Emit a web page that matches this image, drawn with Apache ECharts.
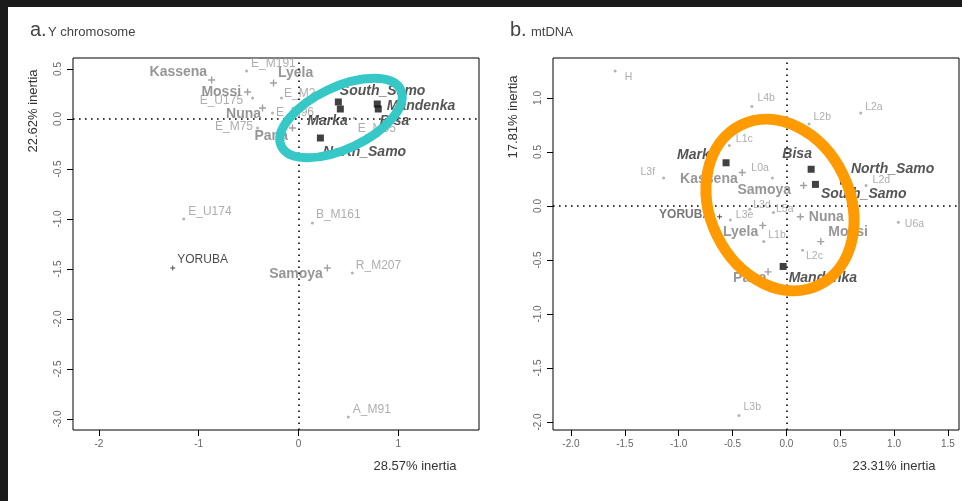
<!DOCTYPE html>
<html><head><meta charset="utf-8">
<script src="https://cdn.jsdelivr.net/npm/echarts@6/dist/echarts.min.js"></script>
<style>html,body{margin:0;padding:0;background:#fff}#c{width:962px;height:501px}</style>
</head><body><div id="c"></div>
<script>
// ---------- DATA: panel a (Y chromosome) ----------
const aHapNames = ['E_M191','E_U175','E_M2','E_M96','E_M75','E_M35','E_U174','B_M161','R_M207','A_M91'];
const aHapX = [-0.52,-0.46,-0.17,-0.26,-0.41,0.56,-1.15,0.14,0.54,0.50];
const aHapY = [0.48,0.21,0.21,0.06,-0.09,0.01,-1.00,-1.04,-1.54,-2.98];
const aPopNames = ['Kassena','Mossi','Lyela','Nuna','Pana','Samoya'];
const aPopX = [-0.87,-0.51,-0.25,-0.36,-0.06,0.29];
const aPopY = [0.39,0.27,0.36,0.11,-0.09,-1.49];
const aStudyNames = ['South_Samo','Marka','Mandenka','Bisa','North_Samo'];
const aStudyX = [0.40,0.42,0.79,0.80,0.22];
const aStudyY = [0.17,0.10,0.15,0.10,-0.19];
const aRefNames = ['YORUBA'];
const aRefX = [-1.26];
const aRefY = [-1.49];
const aXTicks = [-2,-1,0,1];
const aYTicks = [-3,-2.5,-2,-1.5,-1,-0.5,0,0.5];

// ---------- DATA: panel b (mtDNA) ----------
const bHapNames = ['H','L4b','L2b','L2a','L1c','L3f','L0a','L2d','U6a','L3e','L3d','L5a','L1b','L2c','L3b'];
const bHapX = [-1.59,-0.32,0.21,0.69,-0.53,-1.14,-0.13,0.74,1.04,-0.52,-0.34,-0.12,-0.21,0.15,-0.44];
const bHapY = [1.25,0.92,0.76,0.86,0.56,0.26,0.26,0.19,-0.15,-0.13,-0.03,-0.06,-0.33,-0.41,-1.94];
const bPopNames = ['Kassena','Samoya','Nuna','Mossi','Lyela','Pana'];
const bPopX = [-0.41,0.16,0.13,0.32,-0.22,-0.17];
const bPopY = [0.31,0.19,-0.10,-0.33,-0.18,-0.61];
const bStudyNames = ['Marka','Bisa','South_Samo','North_Samo','Mandenka'];
const bStudyX = [-0.56,0.23,0.27,0.53,-0.03];
const bStudyY = [0.40,0.34,0.20,0.23,-0.56];
const bRefNames = ['YORUBA'];
const bRefX = [-0.62];
const bRefY = [-0.10];
const bXTicks = [-2,-1.5,-1,-0.5,0,0.5,1,1.5];
const bYTicks = [-2,-1.5,-1,-0.5,0,0.5,1];

// ---------- label placement (style only) ----------
const placeA = {
  Kassena:['left',4,-8], Mossi:['left',2,0], Lyela:['right',-4,-10], Nuna:['left',7,6], Pana:['left',4,8], Samoya:['left',4,6],
  South_Samo:['right',-7,-11], Marka:['left',16,12], Mandenka:['right',1,2], Bisa:['right',-7,12], North_Samo:['right',-6,14],
  YORUBA:['right',-3,-8],
  E_M191:['right',-2,-7], E_U175:['left',-3,3], E_M2:['right',-4,-4], E_M96:['right',-3,0], E_M75:['left',2,-1],
  E_M35:['right',-3,11], E_U174:['right',-2,-7], B_M161:['right',-3,-8], R_M207:['right',-3,-7], A_M91:['right',-2,-7]
};
const placeB = {
  Kassena:['left',4,7], Samoya:['left',-4,5], Nuna:['right',0,0], Mossi:['right',-1,-9], Lyela:['left',4,7], Pana:['left',7,6],
  YORUBA:['left',-1,-2],
  Marka:['left',0,-8], Bisa:['top',-14,0], South_Samo:['right',-3,10], North_Samo:['right',-1,-12], Mandenka:['right',-3,12],
  H:['right',3,6], L4b:['right',-1,-8], L2b:['right',-2,-7], L2a:['right',-2,-6], L1c:['right',0,-6], L3f:['left',-2,-6],
  L0a:['left',3,-10], L2d:['right',0,-5], U6a:['right',0,2], L3e:['right',-1,-5], L3d:['right',-3,-4], L5a:['right',-4,-3],
  L1b:['right',-2,-7], L2c:['right',-3,6], L3b:['right',-2,-8]
};

function build(names, xs, ys, place) {
  return names.map((n, i) => {
    const p = place[n] || ['right',0,0];
    return { name: n, value: [xs[i], ys[i]], label: { position: p[0], offset: [p[1], p[2]] } };
  });
}

const FONT = '"Liberation Sans", Arial, Helvetica, sans-serif';
const CROSS = 'path://M4,0H6V4H10V6H6V10H4V6H0V4H4Z';

function panelSeries(idx, hapN, hapX, hapY, popN, popX, popY, stN, stX, stY, refN, refX, refY, place, hapFont, refStyle) {
  const common = { type: 'scatter', xAxisIndex: idx, yAxisIndex: idx, animation: false, emphasis: { disabled: true } };
  return [
    Object.assign({}, common, {
      name: 'hap' + idx, symbol: 'circle', symbolSize: 3,
      itemStyle: { color: '#a0a0a0' },
      label: { show: true, formatter: '{b}', color: '#999', fontSize: hapFont, fontFamily: FONT },
      data: build(hapN, hapX, hapY, place),
      markLine: {
        silent: true, symbol: ['none', 'none'], animation: false,
        label: { show: false },
        lineStyle: { color: '#000', type: [1.6, 4.4], width: 1.6 },
        data: [{ xAxis: 0 }, { yAxis: 0 }]
      }
    }),
    Object.assign({}, common, {
      name: 'pop' + idx, symbol: CROSS, symbolSize: 7,
      itemStyle: { color: '#8a8a8a' },
      label: { show: true, formatter: '{b}', color: '#7c7c7c', fontSize: 14, fontWeight: 'bold', fontFamily: FONT },
      data: build(popN, popX, popY, place)
    }),
    Object.assign({}, common, {
      name: 'study' + idx, symbol: 'rect', symbolSize: 7,
      itemStyle: { color: '#111' },
      label: { show: true, formatter: '{b}', color: '#2a2a2a', fontSize: 14, fontWeight: 'bold', fontStyle: 'italic', fontFamily: FONT },
      data: build(stN, stX, stY, place)
    }),
    Object.assign({}, common, {
      name: 'ref' + idx, symbol: CROSS, symbolSize: 5,
      itemStyle: { color: '#222' },
      label: Object.assign({ show: true, formatter: '{b}', fontSize: 12, fontFamily: FONT }, refStyle),
      data: build(refN, refX, refY, place)
    })
  ];
}

function xAx(idx, min, max, ticks, fmt) {
  return {
    type: 'value', gridIndex: idx, min: min, max: max, position: 'bottom',
    axisLine: { show: false, onZero: false },
    axisTick: { show: true, length: 6, inside: false, lineStyle: { color: '#000', width: 1 }, customValues: ticks },
    axisLabel: { show: true, customValues: ticks, formatter: fmt, color: '#666', fontSize: 10, fontFamily: FONT, margin: 9 },
    splitLine: { show: false }
  };
}
function yAx(idx, min, max, ticks, fmt) {
  return {
    type: 'value', gridIndex: idx, min: min, max: max, position: 'left',
    axisLine: { show: false, onZero: false },
    axisTick: { show: true, length: 6, inside: false, lineStyle: { color: '#000', width: 1 }, customValues: ticks },
    axisLabel: { show: true, customValues: ticks, formatter: fmt, color: '#666', fontSize: 10, fontFamily: FONT, rotate: 90, margin: 10 },
    splitLine: { show: false }
  };
}

const f1 = v => String(Math.round(v));
const f2 = v => (Math.abs(v) < 1e-9 ? 0 : v).toFixed(1);

const chart = echarts.init(document.getElementById('c'), null, { renderer: 'canvas' });
chart.setOption({
  backgroundColor: '#ffffff',
  animation: false,
  grid: [
    { left: 73, top: 58, width: 406, height: 372, show: true, borderColor: '#000', borderWidth: 1, backgroundColor: 'transparent' },
    { left: 553, top: 58, width: 406, height: 372, show: true, borderColor: '#000', borderWidth: 1, backgroundColor: 'transparent' }
  ],
  xAxis: [ xAx(0, -2.26, 1.81, aXTicks, f1), xAx(1, -2.167, 1.603, bXTicks, f2) ],
  yAxis: [ yAx(0, -3.11, 0.61, aYTicks, f2), yAx(1, -2.074, 1.37, bYTicks, f2) ],
  series: [].concat(
    panelSeries(0, aHapNames, aHapX, aHapY, aPopNames, aPopX, aPopY, aStudyNames, aStudyX, aStudyY, aRefNames, aRefX, aRefY, placeA, 12, { color: '#1a1a1a' }),
    panelSeries(1, bHapNames, bHapX, bHapY, bPopNames, bPopX, bPopY, bStudyNames, bStudyX, bStudyY, bRefNames, bRefX, bRefY, placeB, 10.5, { color: '#555', fontWeight: 'bold' })
  ),
  graphic: [
    { type: 'rect', z: 200, shape: { x: 0, y: 0, width: 962, height: 7 }, style: { fill: '#1b1b1b' } },
    { type: 'rect', z: 200, shape: { x: 0, y: 0, width: 8, height: 501 }, style: { fill: '#1b1b1b' } },
    { type: 'text', x: 30, y: 40, style: { text: 'a.', font: '20px ' + FONT, fill: '#444', textVerticalAlign: 'bottom', verticalAlign: 'bottom' } },
    { type: 'text', x: 48, y: 39, style: { text: 'Y chromosome', font: '13px ' + FONT, fill: '#444', textVerticalAlign: 'bottom', verticalAlign: 'bottom' } },
    { type: 'text', x: 510, y: 40, style: { text: 'b.', font: '20px ' + FONT, fill: '#444', textVerticalAlign: 'bottom', verticalAlign: 'bottom' } },
    { type: 'text', x: 531, y: 39, style: { text: 'mtDNA', font: '13px ' + FONT, fill: '#444', textVerticalAlign: 'bottom', verticalAlign: 'bottom' } },
    { type: 'text', x: 33, y: 111, rotation: Math.PI / 2, style: { text: '22.62% inertia', font: '13px ' + FONT, fill: '#333', textAlign: 'center', align: 'center', textVerticalAlign: 'middle', verticalAlign: 'middle' } },
    { type: 'text', x: 513, y: 117, rotation: Math.PI / 2, style: { text: '17.81% inertia', font: '13px ' + FONT, fill: '#333', textAlign: 'center', align: 'center', textVerticalAlign: 'middle', verticalAlign: 'middle' } },
    { type: 'text', x: 415, y: 466, style: { text: '28.57% inertia', font: '13px ' + FONT, fill: '#333', textAlign: 'center', align: 'center', textVerticalAlign: 'middle', verticalAlign: 'middle' } },
    { type: 'text', x: 894, y: 466, style: { text: '23.31% inertia', font: '13px ' + FONT, fill: '#333', textAlign: 'center', align: 'center', textVerticalAlign: 'middle', verticalAlign: 'middle' } },
    { type: 'ellipse', z: 150, x: 341, y: 118, rotation: 0.44, shape: { cx: 0, cy: 0, rx: 66, ry: 31 }, style: { fill: 'none', stroke: '#35c8c6', lineWidth: 9 } },
    { type: 'ellipse', z: 150, x: 780, y: 205, rotation: 0.45, shape: { cx: 0, cy: 0, rx: 70, ry: 89 }, style: { fill: 'none', stroke: '#ff9a00', lineWidth: 11 } }
  ]
});
</script>
</body></html>
